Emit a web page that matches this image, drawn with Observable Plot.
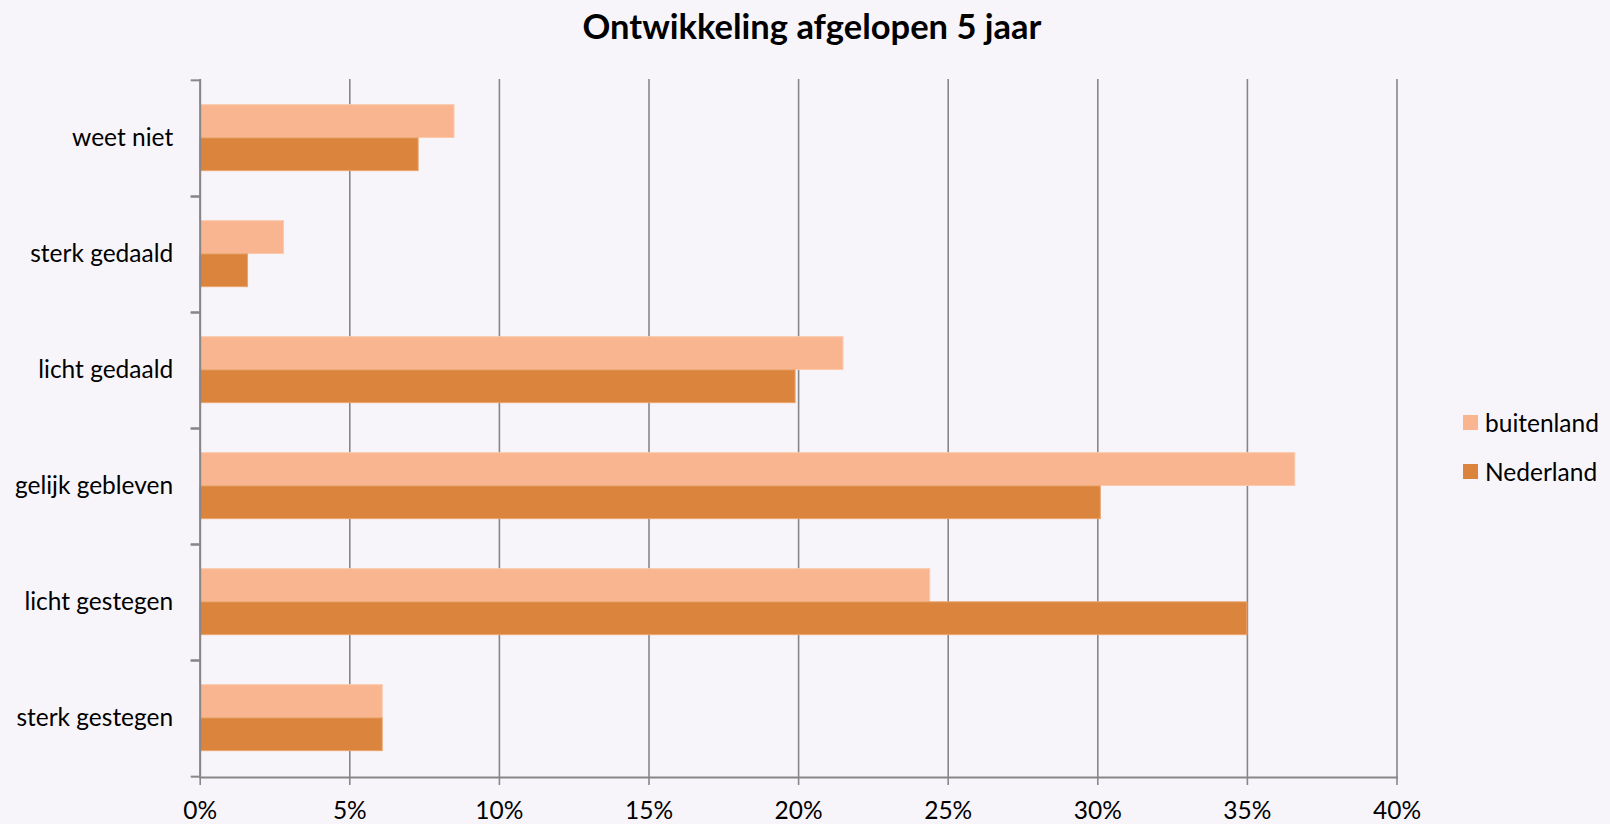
<!DOCTYPE html>
<html>
<head>
<meta charset="utf-8">
<script src="https://cdn.jsdelivr.net/npm/d3@7"></script>
<script src="https://cdn.jsdelivr.net/npm/@observablehq/plot@0.6"></script>
<style>
  html, body { margin: 0; padding: 0; background: #F8F5FA; }
  #wrap { position: relative; width: 1610px; height: 824px; background: #F8F5FA; font-family: Lato, "Open Sans", sans-serif; }
  #title { position: absolute; left: 0; top: 0; width: 1624px; text-align: center; font-weight: bold; font-size: 34.5px; line-height: 52px; color: #000; }
  #chart { position: absolute; left: 0; top: 60px; }
  #legend { position: absolute; left: 1463px; top: 398px; font-size: 24.5px; color: #000; }
  .li { display: flex; align-items: center; height: 49px; }
  .sw { width: 15px; height: 15px; margin-right: 7px; }
</style>
</head>
<body>
<div id="wrap">
  <div id="title">Ontwikkeling afgelopen 5 jaar</div>
  <div id="chart"></div>
  <div id="legend"></div>
</div>
<script>
const categories = ["weet niet", "sterk gedaald", "licht gedaald", "gelijk gebleven", "licht gestegen", "sterk gestegen"];
const series = ["buitenland", "Nederland"];
const buitenland = [8.5, 2.8, 21.5, 36.6, 24.4, 6.1];
const nederland = [7.3, 1.6, 19.9, 30.1, 35.0, 6.1];
const xTicks = [0, 5, 10, 15, 20, 25, 30, 35, 40];
const colors = ["#F9B590", "#DB843D"];

const rows = [];
categories.forEach((c, i) => {
  rows.push({cat: c, series: "buitenland", value: buitenland[i]});
  rows.push({cat: c, series: "Nederland", value: nederland[i]});
});

const W = 1440, H = 764, mt = 19, mb = 47, ml = 199.7, mr = 43.5;
const band = (H - mt - mb) / categories.length;
const barH = band * 0.285;
const padOut = band * 0.212;
const FS = 24.5;

const plot = Plot.plot({
  width: W, height: H,
  marginTop: mt, marginBottom: mb, marginLeft: ml, marginRight: mr,
  style: {background: "transparent", fontFamily: "Lato, 'Open Sans', sans-serif", fontSize: FS + "px", color: "#000"},
  x: {domain: [0, 40], ticks: xTicks, label: null},
  y: {domain: categories, padding: 0, label: null},
  color: {domain: series, range: colors},
  marks: [
    Plot.gridX(xTicks, {stroke: "#878787", strokeOpacity: 1, strokeWidth: 1.6}),
    Plot.barX(rows.filter(d => d.series === "buitenland"), {
      x: "value", y: "cat", fill: "series", stroke: "#FBC9AC", strokeWidth: 1,
      insetTop: padOut, insetBottom: band - padOut - barH
    }),
    Plot.barX(rows.filter(d => d.series === "Nederland"), {
      x: "value", y: "cat", fill: "series", stroke: "#E9A36D", strokeWidth: 1,
      insetTop: padOut + barH, insetBottom: band - padOut - 2 * barH
    }),
    Plot.ruleX([0], {stroke: "#878787", strokeWidth: 2}),
    Plot.axisX({ticks: xTicks, tickSize: 8, tickPadding: 16, stroke: "#878787", strokeWidth: 1.6,
      tickFormat: d => d + "%", fontSize: FS, label: null}),
    Plot.axisY({tickSize: 0, tickPadding: 27, fontSize: FS, label: null}),
    Plot.axisY({tickSize: 9, tickFormat: () => "", dy: -band / 2, stroke: "#878787", strokeWidth: 2, label: null}),
    Plot.axisY({tickSize: 9, tickFormat: () => "", dy: band / 2, stroke: "#878787", strokeWidth: 2, label: null}),
    Plot.frame({anchor: "bottom", stroke: "#878787", strokeWidth: 2})
  ]
});
document.getElementById("chart").appendChild(plot);

const lg = document.getElementById("legend");
series.forEach((s, i) => {
  const row = document.createElement("div");
  row.className = "li";
  row.innerHTML = `<div class="sw" style="background:${colors[i]}"></div><span>${s}</span>`;
  lg.appendChild(row);
});
</script>
</body>
</html>
